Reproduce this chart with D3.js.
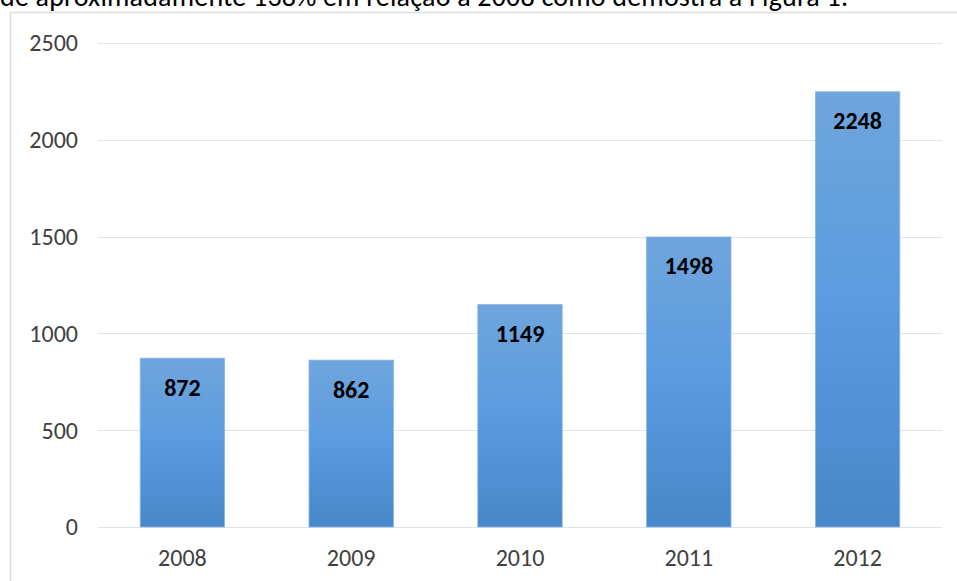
<!DOCTYPE html>
<html>
<head>
<meta charset="utf-8">
<script src="https://cdn.jsdelivr.net/npm/d3@7"></script>
<style>
  body { margin: 0; background: #fff; overflow: hidden; }
  svg { display: block; font-family: Carlito, Calibri, "Open Sans", "Liberation Sans", sans-serif; }
</style>
</head>
<body>
<svg id="chart" width="957" height="581"></svg>
<script>
// Chart data
var years = ["2008", "2009", "2010", "2011", "2012"];
var values = [872, 862, 1149, 1498, 2248];
var yTicks = [0, 500, 1000, 1500, 2000, 2500];

var svg = d3.select("#chart");

// Cut-off line of body text above the figure
svg.append("text")
    .attr("x", 0)
    .attr("y", 6)
    .attr("font-size", 28)
    .attr("textLength", 848)
    .attr("fill", "#000")
    .text("de aproximadamente 138% em relação a 2008 como demostra a Figura 1.");

// Chart frame
svg.append("rect")
    .attr("x", 10.5).attr("y", 12.5)
    .attr("width", 990).attr("height", 600)
    .attr("fill", "none")
    .attr("stroke", "#d9dee6")
    .attr("stroke-width", 1.5);

var margin = {left: 98, right: 15, top: 43, bottom: 54};
var x = d3.scaleBand()
    .domain(years)
    .range([margin.left, 957 - margin.right])
    .paddingInner(0.5)
    .paddingOuter(0.25);
var y = d3.scaleLinear().domain([0, 2500]).range([527, 43]);

// Gradient for the bars
var grad = svg.append("defs").append("linearGradient")
    .attr("id", "barGrad")
    .attr("x1", 0).attr("y1", 0).attr("x2", 0).attr("y2", 1);
grad.append("stop").attr("offset", "0%").attr("stop-color", "#6fa5dc");
grad.append("stop").attr("offset", "50%").attr("stop-color", "#5a9be0");
grad.append("stop").attr("offset", "100%").attr("stop-color", "#4587c8");

// Gridlines
svg.append("g")
    .selectAll("line")
    .data(yTicks)
    .enter().append("line")
    .attr("x1", margin.left).attr("x2", 942)
    .attr("y1", function(d) { return Math.round(y(d)) + 0.5; })
    .attr("y2", function(d) { return Math.round(y(d)) + 0.5; })
    .attr("stroke", "#dfe3ea")
    .attr("stroke-width", 1.2);

// Y axis labels
svg.append("g")
    .selectAll("text")
    .data(yTicks)
    .enter().append("text")
    .attr("x", 78)
    .attr("y", function(d) { return y(d); })
    .attr("dy", "0.35em")
    .attr("text-anchor", "end")
    .attr("font-size", 24)
    .attr("fill", "#404040")
    .text(function(d) { return d; });

// Bars
svg.append("g")
    .selectAll("rect")
    .data(values)
    .enter().append("rect")
    .attr("x", function(d, i) { return x(years[i]); })
    .attr("y", function(d) { return y(d); })
    .attr("width", x.bandwidth())
    .attr("height", function(d) { return y(0) - y(d); })
    .attr("fill", "url(#barGrad)")
    .attr("stroke", "#8ab6e4")
    .attr("stroke-width", 0.8);

// Value labels
svg.append("g")
    .selectAll("text")
    .data(values)
    .enter().append("text")
    .attr("x", function(d, i) { return x(years[i]) + x.bandwidth() / 2; })
    .attr("y", function(d) { return y(d) + 29; })
    .attr("dy", "0.35em")
    .attr("text-anchor", "middle")
    .attr("font-size", 24)
    .attr("font-weight", "bold")
    .attr("fill", "#000")
    .text(function(d) { return d; });

// X axis labels
svg.append("g")
    .selectAll("text")
    .data(years)
    .enter().append("text")
    .attr("x", function(d) { return x(d) + x.bandwidth() / 2; })
    .attr("y", 558)
    .attr("dy", "0.35em")
    .attr("text-anchor", "middle")
    .attr("font-size", 24)
    .attr("fill", "#404040")
    .text(function(d) { return d; });
</script>
</body>
</html>
